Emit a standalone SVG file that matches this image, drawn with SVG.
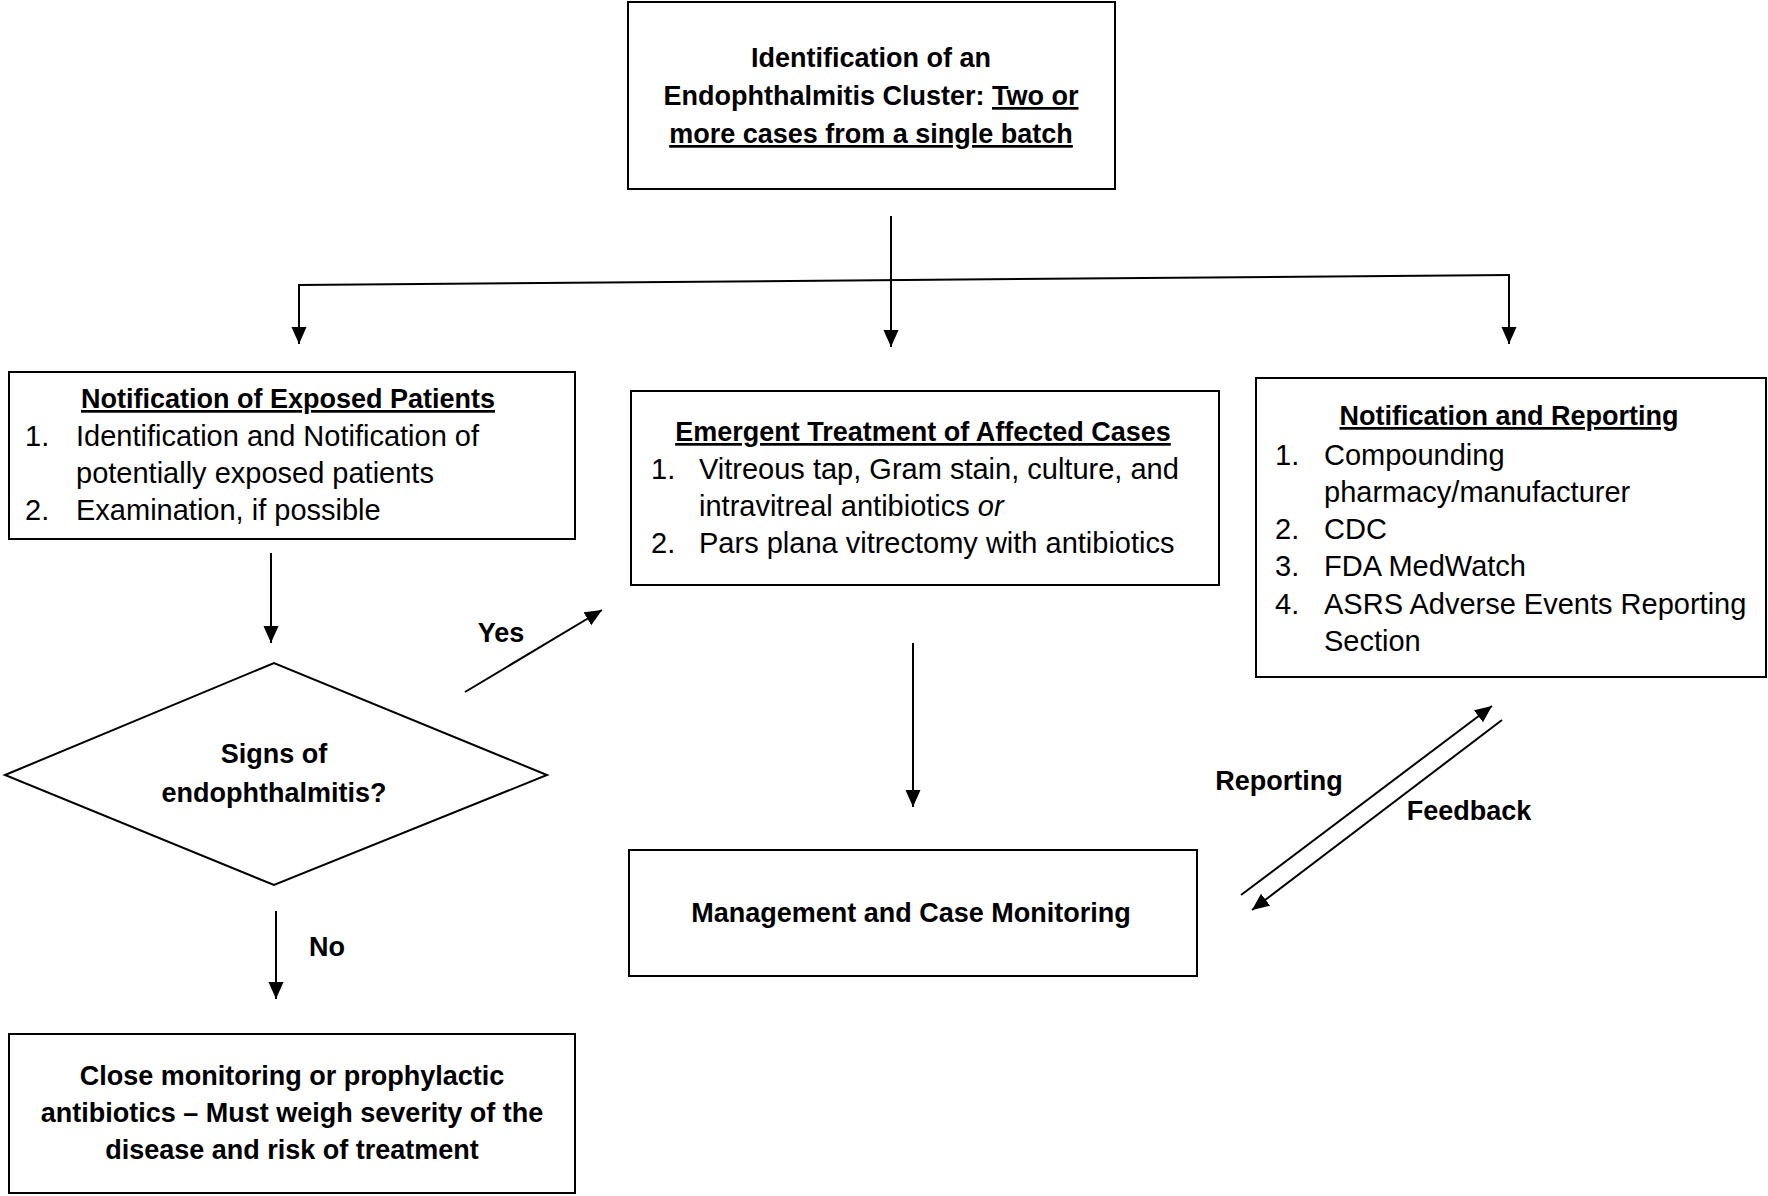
<svg xmlns="http://www.w3.org/2000/svg" width="1768" height="1196" viewBox="0 0 1768 1196">
<style>
.box{fill:#fff;stroke:#000;stroke-width:2}
.t{font-family:"Liberation Sans",Arial,sans-serif;font-size:29px;fill:#000}
.b{font-family:"Liberation Sans",Arial,sans-serif;font-size:27px;font-weight:bold;fill:#000}
.c{text-anchor:middle}
.u{text-decoration:underline}
.ln{fill:none;stroke:#000;stroke-width:2}
</style>
<defs>
<marker id="ah" markerUnits="userSpaceOnUse" markerWidth="18" markerHeight="16" refX="17" refY="7.5" orient="auto">
<path d="M0,0 L17,7.5 L0,15 z" fill="#000"/>
</marker>
</defs>
<rect width="1768" height="1196" fill="#fff"/>
<g id="connectors">
<line class="ln" x1="891" y1="216" x2="891" y2="347" marker-end="url(#ah)"/>
<line class="ln" x1="298" y1="285" x2="1510" y2="275"/>
<line class="ln" x1="299" y1="285" x2="299" y2="344" marker-end="url(#ah)"/>
<line class="ln" x1="1509" y1="275" x2="1509" y2="344" marker-end="url(#ah)"/>
<line class="ln" x1="271" y1="553" x2="271" y2="643" marker-end="url(#ah)"/>
<line class="ln" x1="465" y1="692" x2="602" y2="610" marker-end="url(#ah)"/>
<line class="ln" x1="276" y1="911" x2="276" y2="999" marker-end="url(#ah)"/>
<line class="ln" x1="913" y1="643" x2="913" y2="807" marker-end="url(#ah)"/>
<line class="ln" x1="1241" y1="895" x2="1492" y2="706" marker-end="url(#ah)"/>
<line class="ln" x1="1502" y1="720" x2="1252" y2="910" marker-end="url(#ah)"/>
<text class="b c" x="501" y="642">Yes</text>
<text class="b c" x="327" y="956">No</text>
<text class="b c" x="1279" y="790">Reporting</text>
<text class="b c" x="1469" y="820">Feedback</text>
</g>
<g id="cluster">
<rect class="box" x="628" y="2" width="487" height="187"/>
<text class="b c" x="871" y="67">Identification of an</text>
<text class="b c" x="871" y="105">Endophthalmitis Cluster: <tspan class="u">Two or</tspan></text>
<text class="b c u" x="871" y="143">more cases from a single batch</text>
</g>
<g id="notify-patients">
<rect class="box" x="9" y="372" width="566" height="167"/>
<text class="b c u" x="288" y="408">Notification of Exposed Patients</text>
<text class="t" x="25" y="446">1.</text>
<text class="t" x="76" y="446">Identification and Notification of</text>
<text class="t" x="76" y="483">potentially exposed patients</text>
<text class="t" x="25" y="520">2.</text>
<text class="t" x="76" y="520">Examination, if possible</text>
</g>
<g id="emergent">
<rect class="box" x="631" y="391" width="588" height="194"/>
<text class="b c u" x="923" y="441">Emergent Treatment of Affected Cases</text>
<text class="t" x="651" y="479">1.</text>
<text class="t" x="699" y="479">Vitreous tap, Gram stain, culture, and</text>
<text class="t" x="699" y="516">intravitreal antibiotics <tspan font-style="italic">or</tspan></text>
<text class="t" x="651" y="553">2.</text>
<text class="t" x="699" y="553">Pars plana vitrectomy with antibiotics</text>
</g>
<g id="reporting">
<rect class="box" x="1256" y="378" width="510" height="299"/>
<text class="b c u" x="1509" y="425">Notification and Reporting</text>
<text class="t" x="1275" y="465">1.</text>
<text class="t" x="1324" y="465">Compounding</text>
<text class="t" x="1324" y="502">pharmacy/manufacturer</text>
<text class="t" x="1275" y="539">2.</text>
<text class="t" x="1324" y="539">CDC</text>
<text class="t" x="1275" y="576">3.</text>
<text class="t" x="1324" y="576">FDA MedWatch</text>
<text class="t" x="1275" y="614">4.</text>
<text class="t" x="1324" y="614">ASRS Adverse Events Reporting</text>
<text class="t" x="1324" y="651">Section</text>
</g>
<g id="decision">
<polygon class="box" points="5,775 274,663 547,775 274,885"/>
<text class="b c" x="274" y="763">Signs of</text>
<text class="b c" x="274" y="802">endophthalmitis?</text>
</g>
<g id="close-monitoring">
<rect class="box" x="9" y="1034" width="566" height="159"/>
<text class="b c" x="292" y="1085">Close monitoring or prophylactic</text>
<text class="b c" x="292" y="1122">antibiotics – Must weigh severity of the</text>
<text class="b c" x="292" y="1159">disease and risk of treatment</text>
</g>
<g id="management">
<rect class="box" x="629" y="850" width="568" height="126"/>
<text class="b c" x="911" y="922">Management and Case Monitoring</text>
</g>
</svg>
